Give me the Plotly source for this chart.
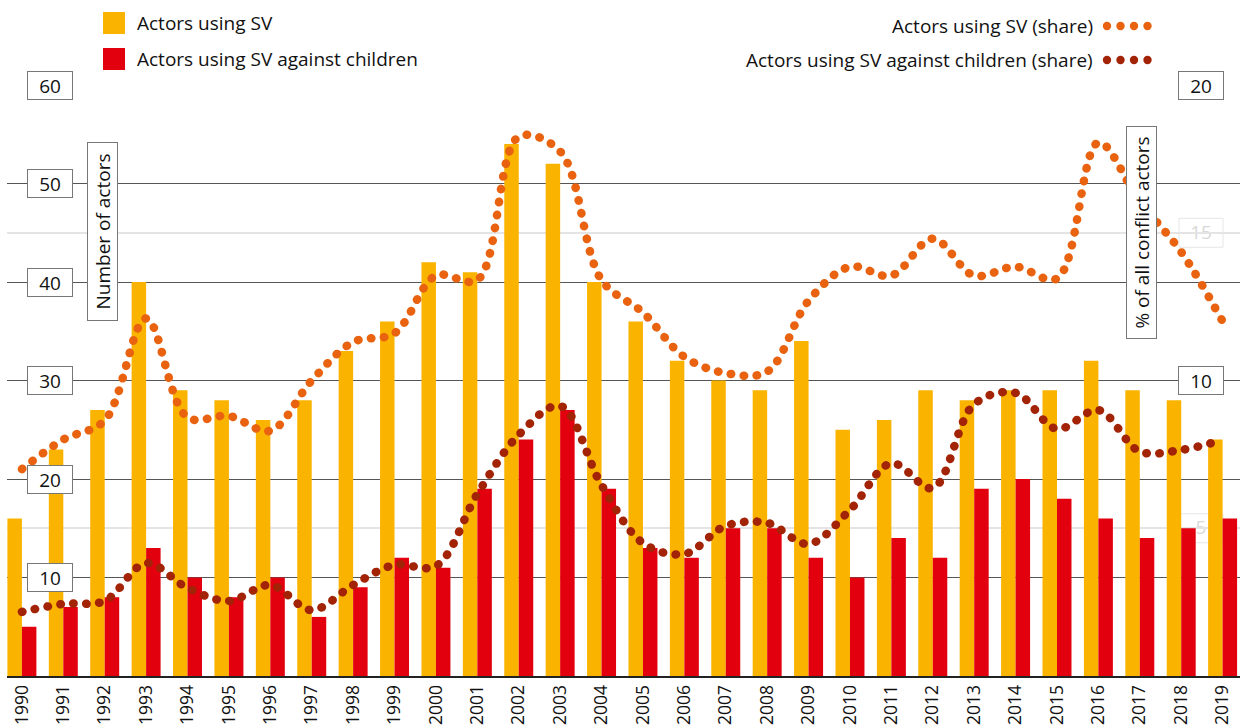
import plotly.graph_objects as go

years = [str(y) for y in range(1990, 2020)]
actors_sv = [16, 23, 27, 40, 29, 28, 26, 28, 33, 36, 42, 41, 54, 52, 40, 36, 32, 30, 29, 34,
             25, 26, 29, 28, 29, 29, 32, 29, 28, 24]
actors_sv_children = [5, 7, 8, 13, 10, 8, 10, 6, 9, 12, 11, 19, 24, 27, 19, 13, 12, 15, 15, 12,
                      10, 14, 12, 19, 20, 18, 16, 14, 15, 16]
share_sv = [7.0, 8.0, 8.65, 12.1, 8.75, 8.8, 8.3, 10.0, 11.3, 11.6, 13.55, 13.4, 18.25, 17.75, 13.4,
            12.3, 10.8, 10.25, 10.3, 12.7, 13.85, 13.55, 14.8, 13.55, 13.85, 13.45, 18.05, 16.05, 14.35, 12.0]
share_sv_children = [2.17, 2.44, 2.54, 3.82, 2.98, 2.54, 3.08, 2.23, 3.08, 3.76, 3.72, 6.16, 8.16, 9.14,
                     6.46, 4.5, 4.13, 5.08, 5.18, 4.47, 5.62, 7.2, 6.36, 9.2, 9.58, 8.36, 9.0, 7.6, 7.65, 7.99]

left_ticks = [10, 20, 30, 40, 50, 60]
right_major_ticks = [10, 20]
right_minor_ticks = [5, 15]

ORANGE = "#FAB400"
RED = "#E2000F"
ORANGE_DOT = "#E8620F"
RED_DOT = "#A32307"
FONT = "Open Sans"
FS = 19

W, H = 1247, 726
L, R, T, B = 7, 7, 85, 50
PW, PH = W - L - R, H - T - B


def px(xp):
    return (xp - L) / PW


def py(yp):
    return (H - B - yp) / PH


fig = go.Figure()
fig.add_trace(go.Bar(x=years, y=actors_sv, name="Actors using SV", marker_color=ORANGE,
                     marker_line_width=0, yaxis="y"))
fig.add_trace(go.Bar(x=years, y=actors_sv_children, name="Actors using SV against children",
                     marker_color=RED, marker_line_width=0, yaxis="y"))
fig.add_trace(go.Scatter(x=years, y=share_sv, name="Actors using SV (share)", yaxis="y2",
                         mode="lines", line=dict(color=ORANGE_DOT, width=8.5, shape="spline",
                                                 smoothing=1, dash="0.5px,12.5px")))
fig.add_trace(go.Scatter(x=years, y=share_sv_children, name="Actors using SV against children (share)",
                         yaxis="y2", mode="lines",
                         line=dict(color=RED_DOT, width=8.5, shape="spline", smoothing=1,
                                   dash="0.5px,12.5px")))

annotations = []
shapes = []

# left tick labels in boxes
for v in left_ticks:
    annotations.append(dict(x=px(50), xref="paper", y=v, yref="y", text=str(v), showarrow=False,
                            font=dict(family=FONT, size=FS, color="#111"), bgcolor="white",
                            bordercolor="#777", borderwidth=1, borderpad=0, width=44, height=27,
                            xanchor="center", yanchor="middle"))
# right major tick labels
for v in right_major_ticks:
    annotations.append(dict(x=px(1201), xref="paper", y=v, yref="y2", text=str(v), showarrow=False,
                            font=dict(family=FONT, size=FS, color="#111"), bgcolor="white",
                            bordercolor="#777", borderwidth=1, borderpad=0, width=44, height=27,
                            xanchor="center", yanchor="middle"))
# right minor tick labels (drawn beneath the bars)
half = 14.5 * 20 / PH
for v in right_minor_ticks:
    shapes.append(dict(type="rect", xref="paper", yref="y2", x0=px(1179), x1=px(1223),
                       y0=v - half, y1=v + half, layer="between", fillcolor="white",
                       line=dict(color="#e6e6e6", width=1),
                       label=dict(text=str(v), font=dict(family=FONT, size=FS, color="#d8d8d8"),
                                  textposition="middle center")))

# axis titles
annotations.append(dict(x=px(103), xref="paper", y=py(232), yref="paper", text="Number of actors",
                        textangle=-90, showarrow=False, font=dict(family=FONT, size=FS, color="#111"),
                        bgcolor="white", bordercolor="#777", borderwidth=1, borderpad=0,
                        width=177, height=29, xanchor="center", yanchor="middle"))
annotations.append(dict(x=px(1141.5), xref="paper", y=py(232.5), yref="paper",
                        text="% of all conflict actors", textangle=-90, showarrow=False,
                        font=dict(family=FONT, size=FS, color="#111"), bgcolor="white",
                        bordercolor="#777", borderwidth=1, borderpad=0, width=211, height=29,
                        xanchor="center", yanchor="middle"))

# legends (left: bars)
for (yc, col, txt) in [(23, ORANGE, "Actors using SV"), (59, RED, "Actors using SV against children")]:
    shapes.append(dict(type="rect", xref="paper", yref="paper", x0=px(103), x1=px(125),
                       y0=py(yc + 11), y1=py(yc - 11), fillcolor=col, line=dict(width=0)))
    annotations.append(dict(x=px(135), xref="paper", y=py(yc), yref="paper", text=txt,
                            showarrow=False, xanchor="left", yanchor="middle",
                            font=dict(family=FONT, size=FS, color="#111")))
# legends (right: shares)
for (yc, col, txt) in [(26, ORANGE_DOT, "Actors using SV (share)"),
                       (60, RED_DOT, "Actors using SV against children (share)")]:
    annotations.append(dict(x=px(1095), xref="paper", y=py(yc), yref="paper", text=txt,
                            showarrow=False, xanchor="right", yanchor="middle",
                            font=dict(family=FONT, size=FS, color="#111")))
    for cx in [1107, 1120.5, 1134, 1147.5]:
        shapes.append(dict(type="circle", xref="paper", yref="paper", x0=px(cx - 4.2), x1=px(cx + 4.2),
                           y0=py(yc + 4.2), y1=py(yc - 4.2), fillcolor=col, line=dict(width=0)))

fig.update_layout(
    width=W, height=H, margin=dict(l=L, r=R, t=T, b=B, autoexpand=False),
    paper_bgcolor="white", plot_bgcolor="white",
    barmode="group", bargap=0.30, bargroupgap=0,
    showlegend=False,
    font=dict(family=FONT, size=FS, color="#111"),
    xaxis=dict(type="category", range=[-0.36, 29.42], tickangle=-90, automargin=False,
               tickfont=dict(family=FONT, size=17.5, color="#111"), showgrid=False,
               showline=True, linecolor="#222", linewidth=2, ticks="", ticklen=0),
    yaxis=dict(range=[0, 60], tickvals=left_ticks, showticklabels=False, showgrid=True,
               gridcolor="#555", gridwidth=1.2, zeroline=False, automargin=False),
    yaxis2=dict(range=[0, 20], overlaying="y", side="right", tickvals=right_minor_ticks,
                showticklabels=False, showgrid=True, gridcolor="#e4e4e4", gridwidth=1.5,
                zeroline=False, automargin=False),
    annotations=annotations,
    shapes=shapes,
)

post = ("var s=document.createElement('style');"
        "s.innerHTML='html,body{margin:0;padding:0;overflow:hidden;}"
        ".scatterlayer .js-line{stroke-linecap:round !important;}';"
        "document.head.appendChild(s);")
fig.write_html("out.html", post_script=post, config={"displayModeBar": False})
